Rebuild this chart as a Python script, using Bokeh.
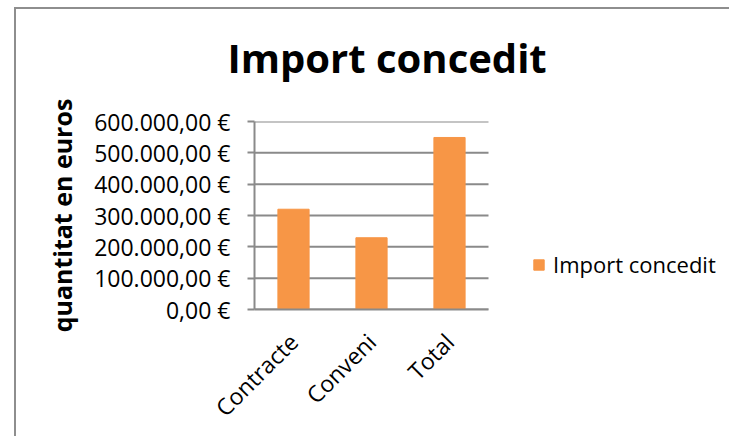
from math import pi
from bokeh.plotting import figure
from bokeh.models import Range1d, Legend, LegendItem, Title, FixedTicker
from bokeh.embed import file_html
from bokeh.resources import INLINE

categories = ["Contracte", "Conveni", "Total"]
values = [320000, 229000, 549000]
series_name = "Import concedit"
y_ticks = [0, 100000, 200000, 300000, 400000, 500000, 600000]
y_tick_labels = ["0,00 €", "100.000,00 €", "200.000,00 €", "300.000,00 €",
                 "400.000,00 €", "500.000,00 €", "600.000,00 €"]

FONT = "Open Sans"
GRAY = "#8a8a8a"

# category slots 0..N on a numeric axis; the frame extends past the bars so
# the legend (which sits to the right of the plot area) is drawn inside it
n = len(categories)
x_pos = [i + 0.5 for i in range(n)]
PLOT_W = 234          # pixel width of the category area
FRAME_W = 715 - 238   # pixel width of the whole frame

p = figure(x_range=Range1d(0, n * FRAME_W / PLOT_W),
           y_range=Range1d(0, 600000),
           width=715, height=429,
           min_border_left=238, min_border_right=0,
           min_border_top=112, min_border_bottom=129,
           output_backend="svg", toolbar_location=None,
           margin=(7, 0, 0, 14))
p.styles = {"border-left": "2px solid #8e8e8e", "border-top": "2px solid #8e8e8e"}

# horizontal gridlines limited to the category area
p.segment(x0=[0] * len(y_ticks), x1=[n] * len(y_ticks), y0=y_ticks, y1=y_ticks,
          line_color=GRAY, line_width=2, level="underlay")

bars = p.vbar(x=x_pos, top=values, width=0.4, color="#F79646")

p.title.text = "Import concedit"
p.title.text_font = FONT
p.title.text_font_size = "40px"
p.title.text_font_style = "bold"
p.title.text_color = "black"
p.title.align = "left"
p.title.offset = -27
p.title.standoff = 30

spacer = Title(text=" ", text_font_size="14px", standoff=4)
p.add_layout(spacer, "above")

p.outline_line_color = None
p.xgrid.visible = False
p.ygrid.visible = False

p.yaxis.ticker = y_ticks
p.yaxis.major_label_overrides = dict(zip(y_ticks, y_tick_labels))
p.yaxis.axis_label = "quantitat en euros"
p.yaxis.axis_label_text_font = FONT
p.yaxis.axis_label_text_font_size = "25px"
p.yaxis.axis_label_text_font_style = "bold"
p.yaxis.axis_label_text_color = "black"
p.yaxis.axis_label_standoff = 12
p.yaxis.major_tick_out = 7
p.yaxis.major_tick_in = 0
p.yaxis.minor_tick_line_color = None
p.yaxis.major_label_standoff = 17

p.xaxis.ticker = FixedTicker(ticks=x_pos)
p.xaxis.major_label_overrides = dict(zip(x_pos, categories))
p.xaxis.bounds = (0, n)
p.xaxis.minor_tick_line_color = None
p.xaxis.major_label_orientation = pi / 4
p.xaxis.major_label_standoff = 22

for ax in (p.xaxis, p.yaxis):
    ax.axis_line_color = GRAY
    ax.axis_line_width = 2
    ax.major_tick_line_width = 2
    ax.major_label_text_font = FONT
    ax.major_label_text_font_size = "23px"
    ax.major_label_text_color = "black"
p.yaxis.major_tick_line_color = GRAY
p.xaxis.major_tick_line_color = None

legend = Legend(items=[LegendItem(label=series_name, renderers=[bars])],
                location=(278, 30), padding=0, margin=0, border_line_color=None,
                background_fill_alpha=0, glyph_width=13, glyph_height=13,
                label_standoff=8, label_text_font=FONT, label_text_font_size="22px",
                label_text_color="black")
p.add_layout(legend, "center")

open("out.html", "w").write(file_html(p, INLINE))
